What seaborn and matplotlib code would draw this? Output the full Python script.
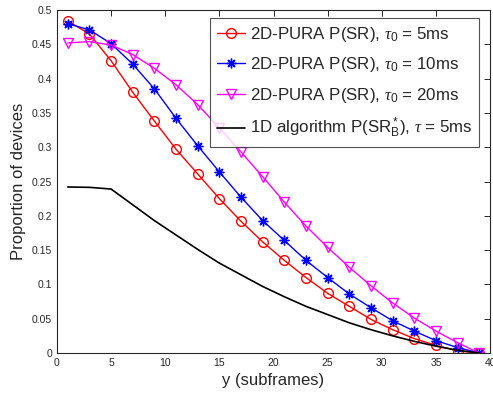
import pandas as pd
import matplotlib
matplotlib.use('Agg')
import matplotlib.pyplot as plt
import seaborn as sns

# subframe positions of the markers
subframes = [1, 3, 5, 7, 9, 11, 13, 15, 17, 19, 21, 23, 25, 27, 29, 31, 33, 35, 37, 39]

# 2D-PURA, tau0 = 5ms
p_sr_5 = [0.484, 0.465, 0.426, 0.380, 0.338, 0.297, 0.261, 0.225, 0.192, 0.162,
          0.135, 0.110, 0.087, 0.068, 0.049, 0.034, 0.021, 0.011, 0.003, 0.0]
# 2D-PURA, tau0 = 10ms
p_sr_10 = [0.480, 0.471, 0.451, 0.421, 0.385, 0.342, 0.302, 0.264, 0.227, 0.193,
           0.164, 0.135, 0.110, 0.086, 0.066, 0.047, 0.032, 0.018, 0.008, 0.0]
# 2D-PURA, tau0 = 20ms
p_sr_20 = [0.452, 0.454, 0.449, 0.435, 0.415, 0.391, 0.362, 0.328, 0.293, 0.257,
           0.220, 0.185, 0.154, 0.125, 0.098, 0.073, 0.051, 0.032, 0.015, 0.0]
# 1D algorithm, tau = 5ms
p_srb_1d = [0.242, 0.2415, 0.239, 0.216, 0.193, 0.172, 0.151, 0.131, 0.114, 0.097,
            0.082, 0.068, 0.056, 0.044, 0.034, 0.025, 0.017, 0.010, 0.004, 0.0]

xticks = [0, 5, 10, 15, 20, 25, 30, 35, 40]
yticks = [0, 0.05, 0.1, 0.15, 0.2, 0.25, 0.3, 0.35, 0.4, 0.45, 0.5]
ytick_labels = ['0', '0.05', '0.1', '0.15', '0.2', '0.25', '0.3', '0.35', '0.4', '0.45', '0.5']

df = pd.DataFrame({'y': subframes, 'r5': p_sr_5, 'r10': p_sr_10,
                   'r20': p_sr_20, 'b1d': p_srb_1d})

sns.set_style('white')
plt.rcParams['font.family'] = ['Liberation Sans', 'DejaVu Sans']
plt.rcParams['mathtext.fontset'] = 'custom'
plt.rcParams['mathtext.rm'] = 'Liberation Sans'
plt.rcParams['mathtext.it'] = 'Liberation Serif:italic'

fig = plt.figure(figsize=(4.93, 3.96), dpi=100)
ax = fig.add_axes([0.1156, 0.1086, 0.8784, 0.8661])

sns.lineplot(data=df, x='y', y='r5', ax=ax, color='red', lw=1, marker='o',
             markersize=7, markerfacecolor='none', markeredgecolor='red',
             markeredgewidth=1, label=r'2D-PURA P(SR), $\tau_0$ = 5ms')
sns.lineplot(data=df, x='y', y='r10', ax=ax, color='blue', lw=1, marker=(8, 2, 0),
             markersize=7, markeredgecolor='blue', markeredgewidth=1,
             label=r'2D-PURA P(SR), $\tau_0$ = 10ms')
sns.lineplot(data=df, x='y', y='r20', ax=ax, color='magenta', lw=1, marker='v',
             markersize=7.5, markerfacecolor='none', markeredgecolor='magenta',
             markeredgewidth=1, label=r'2D-PURA P(SR), $\tau_0$ = 20ms')
sns.lineplot(data=df, x='y', y='b1d', ax=ax, color='black', lw=1.2,
             label=r'1D algorithm P(SR$_\mathrm{B}^*$), $\tau$ = 5ms')

ax.set_xlim(0, 40)
ax.set_ylim(0, 0.5)
ax.set_xticks(xticks)
ax.set_yticks(yticks)
ax.set_xticklabels([str(t) for t in xticks])
ax.set_yticklabels(ytick_labels)
ax.tick_params(direction='in', length=4, width=0.7, labelsize=7.5, top=True, right=True,
               labeltop=False, labelright=False, colors='#262626')
for s in ax.spines.values():
    s.set_linewidth(0.8)
    s.set_color('#262626')

ax.set_xlabel('y (subframes)', fontsize=12)
ax.set_ylabel('Proportion of devices', fontsize=12)

leg = ax.legend(loc='upper right', fontsize=12.2, frameon=True, fancybox=False,
                edgecolor='#262626', handlelength=1.7, labelspacing=0.68,
                borderpad=0.4, handletextpad=0.25, borderaxespad=0,
                bbox_to_anchor=(0.975, 0.977))
leg.get_frame().set_linewidth(0.8)

fig.savefig('out.png', dpi=100)
